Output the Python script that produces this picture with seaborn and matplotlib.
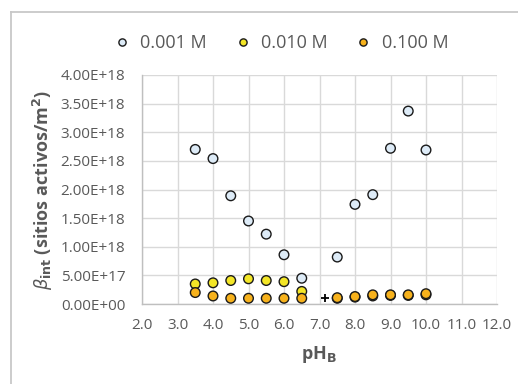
import pandas as pd
import matplotlib.pyplot as plt
import matplotlib.ticker as mticker
import seaborn as sns

# pH values of each series
ph_left = [3.5, 4.0, 4.5, 5.0, 5.5, 6.0, 6.5]
ph_right = [7.5, 8.0, 8.5, 9.0, 9.5, 10.0]

# beta_int values (sitios activos/m2)
beta_0001 = [2.70e18, 2.54e18, 1.89e18, 1.45e18, 1.22e18, 0.86e18, 0.45e18,
             0.82e18, 1.74e18, 1.91e18, 2.72e18, 3.37e18, 2.69e18]
beta_0010 = [0.35e18, 0.37e18, 0.41e18, 0.44e18, 0.41e18, 0.39e18, 0.22e18,
             0.10e18, 0.12e18, 0.14e18, 0.15e18, 0.15e18, 0.16e18]
beta_0100 = [0.20e18, 0.14e18, 0.10e18, 0.10e18, 0.10e18, 0.10e18, 0.10e18,
             0.11e18, 0.13e18, 0.16e18, 0.16e18, 0.16e18, 0.18e18]

# stray "+" mark
plus_x = [7.15]
plus_y = [0.10e18]

labels = ["0.001 M", "0.010 M", "0.100 M"]
colors = ["#ddebf7", "#f3e627", "#f7b21c"]

ph = ph_left + ph_right
df = pd.DataFrame({
    "pH": ph * 3,
    "beta": beta_0001 + beta_0010 + beta_0100,
    "serie": [labels[0]] * len(ph) + [labels[1]] * len(ph) + [labels[2]] * len(ph),
})

sns.set_theme(style="white")
plt.rcParams['font.family'] = ['Open Sans', 'DejaVu Sans']

fig = plt.figure(figsize=(5.18, 3.84), dpi=100)

# chart area border: background axes, only top and left edges fall inside the image
bg = fig.add_axes([10.5 / 518, -0.05, 1.0, 1.05 - 12 / 384])
bg.set_xticks([])
bg.set_yticks([])
bg.patch.set_alpha(0)
for side in ["top", "left"]:
    bg.spines[side].set_color("#c8c8c8")
    bg.spines[side].set_linewidth(1.3)
for side in ["bottom", "right"]:
    bg.spines[side].set_visible(False)

ax = fig.add_axes([142 / 518, 80 / 384, 355 / 518, 229 / 384])

sns.scatterplot(data=df, x="pH", y="beta", hue="serie", palette=colors,
                s=48, edgecolor="#1a1a1a", linewidth=1.0, ax=ax, zorder=3,
                legend=True)
ax.scatter(plus_x, plus_y, marker="+", color="black", s=40, linewidth=1.3, zorder=4)

ax.set_xlim(2.0, 12.0)
ax.set_ylim(0, 4.0e18)
ax.xaxis.set_major_locator(mticker.MultipleLocator(1.0))
ax.yaxis.set_major_locator(mticker.MultipleLocator(0.5e18))
ax.xaxis.set_major_formatter(mticker.FormatStrFormatter("%.1f"))
ax.yaxis.set_major_formatter(
    mticker.FuncFormatter(lambda v, p: "{:.2E}".format(v)))

ax.grid(True, color="#d9d9d9", linewidth=1.0)
ax.set_axisbelow(True)
for side in ["top", "right"]:
    ax.spines[side].set_visible(False)
for side in ["left", "bottom"]:
    ax.spines[side].set_color("#bfbfbf")
    ax.spines[side].set_linewidth(1.0)
ax.tick_params(axis="y", length=0, labelsize=11, colors="#595959", pad=12)
ax.tick_params(axis="x", length=0, labelsize=11, colors="#595959", pad=10)

ax.set_xlabel(r"pH$_\mathbf{B}$", fontsize=13, fontweight="bold", color="#595959", labelpad=8)
ax.set_ylabel(r"$\beta_{\mathbf{int}}$ (sitios activos/m$^\mathbf{2}$)", fontsize=13,
              fontweight="bold", color="#595959", labelpad=4)

handles, lbls = ax.get_legend_handles_labels()
ax.legend_.remove()
fig.legend(handles, lbls, loc="center", bbox_to_anchor=(276 / 518, 1 - 43 / 384),
           ncol=3, frameon=False, fontsize=13, labelcolor="#595959",
           handletextpad=0.0, columnspacing=1.0, markerscale=0.75)

plt.savefig("out.png", dpi=100)
